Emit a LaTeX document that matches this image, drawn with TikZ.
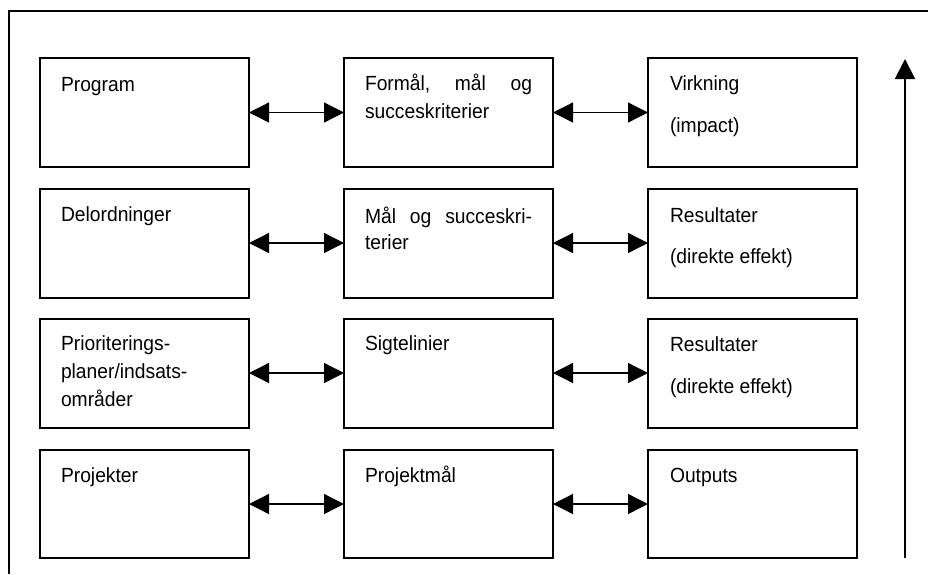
\documentclass[tikz,border=0pt]{standalone}
\usepackage{fontspec}
\setmainfont{Liberation Sans}[FakeStretch=0.94]
\usetikzlibrary{arrows.meta}

\begin{document}
\begin{tikzpicture}[x=1pt,y=-1pt,
  cell/.style={draw, line width=2pt, minimum width=209pt, minimum height=109pt,
               inner sep=0pt, outer sep=0pt},
  txt/.style={anchor=base west, inner sep=0pt, outer sep=0pt,
              font=\fontsize{20.5pt}{24pt}\selectfont},
  link/.style={line width=1.3pt,
               {Triangle[length=20pt,width=20pt]}-{Triangle[length=20pt,width=20pt]}},
  frame/.style={line width=2pt},
  rise/.style={line width=2pt, -{Triangle[length=20pt,width=20pt]}}]

\useasboundingbox (0,0) rectangle (928,574);

% open frame: top and left edges only
\draw[frame] (9,574) -- (9,11) -- (928,11);

% boxes: columns at x = 144.5, 448.5, 752.5; rows at y = 112.5, 243, 373, 504
\node[cell] (p1) at (144.5,112.5) {};
\node[cell] (m1) at (448.5,112.5) {};
\node[cell] (r1) at (752.5,112.5) {};
\node[cell] (p2) at (144.5,243) {};
\node[cell] (m2) at (448.5,243) {};
\node[cell] (r2) at (752.5,243) {};
\node[cell] (p3) at (144.5,373) {};
\node[cell] (m3) at (448.5,373) {};
\node[cell] (r3) at (752.5,373) {};
\node[cell, minimum height=108pt] (p4) at (144.5,504) {};
\node[cell, minimum height=108pt] (m4) at (448.5,504) {};
\node[cell, minimum height=108pt] (r4) at (752.5,504) {};

% row 1
\node[txt] (t11) at (61,91) {Program};
\node[txt] (t12a) at (365,90) {\makebox[167pt][s]{Formål,\hfill mål\hfill og}};
\node[txt] (t12b) at (365,118.5) {succeskriterier};
\node[txt] (t13a) at (670,90) {Virkning};
\node[txt] (t13b) at (670,132) {(impact)};

% row 2
\node[txt] (t21) at (61,221) {Delordninger};
\node[txt] (t22a) at (365,223) {\makebox[167pt][s]{Mål\hfill og\hfill succeskri-}};
\node[txt] (t22b) at (365,249.5) {terier};
\node[txt] (t23a) at (670,222) {Resultater};
\node[txt] (t23b) at (670,263.5) {(direkte effekt)};

% row 3
\node[txt] (t31a) at (61,350) {Prioriterings-};
\node[txt] (t31b) at (61,378) {planer/indsats-};
\node[txt] (t31c) at (61,406) {områder};
\node[txt] (t32) at (365,350) {Sigtelinier};
\node[txt] (t33a) at (670,351) {Resultater};
\node[txt] (t33b) at (670,393) {(direkte effekt)};

% row 4
\node[txt] (t41) at (61,482) {Projekter};
\node[txt] (t42) at (365,482) {Projektmål};
\node[txt] (t43) at (670,482) {Outputs};

% two-way links between neighbouring boxes
\foreach \r in {1,2,3,4} {
  \draw[link] (p\r.east) -- (m\r.west);
  \draw[link] (m\r.east) -- (r\r.west);
}

% upward arrow on the right
\coordinate (upfoot) at (905,558);
\coordinate (uptip) at (905,59);
\draw[rise] (upfoot) -- (uptip);

\end{tikzpicture}
\end{document}
